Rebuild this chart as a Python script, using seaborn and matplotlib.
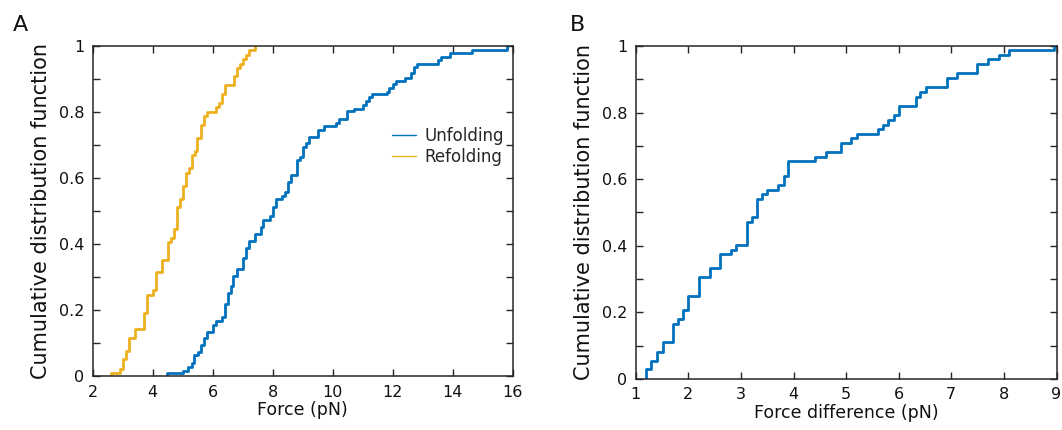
import matplotlib
matplotlib.use("Agg")
import matplotlib.pyplot as plt
import numpy as np
import pandas as pd
import seaborn as sns
from matplotlib.lines import Line2D
from matplotlib.ticker import MultipleLocator, FuncFormatter

# ---- data (step positions and CDF levels) ----
unfold_force = [4.49, 5.00, 5.19, 5.30, 5.39, 5.50, 5.60, 5.70, 5.80, 6.00,
                6.11, 6.30, 6.40, 6.51, 6.60, 6.69, 6.80, 7.00, 7.11, 7.20,
                7.41, 7.60, 7.69, 7.90, 8.00, 8.11, 8.32, 8.41, 8.50, 8.61,
                8.80, 8.91, 9.00, 9.11, 9.20, 9.52, 9.71, 10.11, 10.21, 10.49,
                10.70, 11.00, 11.11, 11.22, 11.30, 11.80, 11.89, 12.00, 12.10, 12.41,
                12.61, 12.71, 12.80, 13.52, 13.61, 13.91, 14.63, 15.82]
unfold_cdf = [0.009, 0.017, 0.029, 0.041, 0.065, 0.075, 0.095, 0.115, 0.135, 0.156,
              0.169, 0.179, 0.219, 0.252, 0.274, 0.304, 0.324, 0.358, 0.388, 0.411,
              0.431, 0.452, 0.475, 0.485, 0.514, 0.536, 0.546, 0.560, 0.590, 0.610,
              0.654, 0.664, 0.694, 0.706, 0.726, 0.746, 0.757, 0.769, 0.780, 0.803,
              0.811, 0.822, 0.834, 0.845, 0.855, 0.863, 0.875, 0.886, 0.895, 0.905,
              0.918, 0.936, 0.946, 0.959, 0.969, 0.979, 0.989, 1.000]

refold_force = [2.60, 2.91, 3.00, 3.10, 3.20, 3.40, 3.71, 3.80, 4.00, 4.11,
                4.30, 4.51, 4.60, 4.70, 4.80, 4.92, 5.00, 5.10, 5.21, 5.30,
                5.41, 5.49, 5.60, 5.72, 5.80, 6.11, 6.20, 6.30, 6.40, 6.70,
                6.80, 6.90, 7.00, 7.10, 7.21, 7.40]
refold_cdf = [0.010, 0.022, 0.051, 0.076, 0.117, 0.142, 0.193, 0.247, 0.261, 0.315,
              0.352, 0.406, 0.419, 0.446, 0.513, 0.537, 0.577, 0.616, 0.632, 0.670,
              0.683, 0.722, 0.761, 0.789, 0.802, 0.815, 0.829, 0.855, 0.883, 0.909,
              0.934, 0.947, 0.961, 0.975, 0.988, 1.000]

diff_force = [1.20, 1.30, 1.40, 1.51, 1.70, 1.80, 1.90, 2.00, 2.21, 2.41,
              2.60, 2.81, 2.90, 3.11, 3.21, 3.30, 3.41, 3.50, 3.70, 3.81,
              3.90, 4.41, 4.61, 4.90, 5.10, 5.20, 5.61, 5.71, 5.80, 5.91,
              6.01, 6.32, 6.40, 6.51, 6.91, 7.10, 7.49, 7.70, 7.91, 8.10, 8.96]
diff_cdf = [0.028, 0.053, 0.081, 0.110, 0.166, 0.180, 0.208, 0.250, 0.306, 0.333,
            0.375, 0.388, 0.401, 0.471, 0.486, 0.541, 0.556, 0.568, 0.583, 0.610,
            0.653, 0.666, 0.680, 0.708, 0.723, 0.736, 0.750, 0.763, 0.778, 0.793,
            0.820, 0.848, 0.861, 0.876, 0.903, 0.918, 0.946, 0.960, 0.974, 0.988, 1.000]

series_labels = ["Unfolding", "Refolding"]
BLUE = "#0072BD"
YELLOW = "#EDB120"
SPINE = "#262626"

sns.set_style("ticks")
plt.rcParams["font.family"] = ["DejaVu Sans"]

W, H = 1062, 430
fig = plt.figure(figsize=(W / 100, H / 100), dpi=100)


def frac(left, top, right, bottom):
    return [left / W, (H - bottom) / H, (right - left) / W, (bottom - top) / H]


axA = fig.add_axes(frac(92.7, 46.3, 512.7, 376.3))
axB = fig.add_axes(frac(635.7, 46.0, 1056.5, 378.8))


def stairs(ax, xs, ys, color):
    df = pd.DataFrame({"x": [xs[0]] + list(xs), "y": [0.0] + list(ys)})
    sns.lineplot(data=df, x="x", y="y", ax=ax, color=color, lw=2.0,
                 drawstyle="steps-post", estimator=None, sort=False,
                 legend=False)


stairs(axA, refold_force, refold_cdf, YELLOW)
stairs(axA, unfold_force, unfold_cdf, BLUE)
stairs(axB, diff_force, diff_cdf, BLUE)

fmt = FuncFormatter(lambda v, p: f"{v:g}")

for ax, (x0, x1), xstep in [(axA, (2, 16), 2), (axB, (1, 9), 1)]:
    ax.set_xlim(x0, x1)
    ax.set_ylim(0, 1)
    ax.xaxis.set_major_locator(MultipleLocator(xstep))
    ax.yaxis.set_major_locator(MultipleLocator(0.2))
    ax.yaxis.set_minor_locator(MultipleLocator(0.1))
    ax.xaxis.set_major_formatter(fmt)
    ax.yaxis.set_major_formatter(fmt)
    ax.tick_params(which="both", direction="in", top=True, right=True,
                   length=5, width=1.0, color=SPINE, labelsize=11.5,
                   labelcolor="#111111", pad=6)
    for s in ax.spines.values():
        s.set_visible(True)
        s.set_color(SPINE)
        s.set_linewidth(1.1)
    ax.set_ylabel("Cumulative distribution function", fontsize=15,
                  color="#111111", labelpad=6)

axA.set_xlabel("Force (pN)", fontsize=12.5, color="#111111", labelpad=1)
axB.set_xlabel("Force difference (pN)", fontsize=12.5, color="#111111", labelpad=1)

handles = [Line2D([], [], color=BLUE, lw=1.0),
           Line2D([], [], color=YELLOW, lw=1.0)]
axA.legend(handles, series_labels, loc="center left",
           bbox_to_anchor=(0.712, 0.697), frameon=False, fontsize=12,
           handlelength=1.45, handletextpad=0.5, labelspacing=0.15,
           borderpad=0, borderaxespad=0)

fig.text(20 / W, 1 - 25 / H, "A", fontsize=16, ha="center", va="center", color="#111111")
fig.text(578 / W, 1 - 25 / H, "B", fontsize=16, ha="center", va="center", color="#111111")

fig.savefig("out.png", dpi=100)
